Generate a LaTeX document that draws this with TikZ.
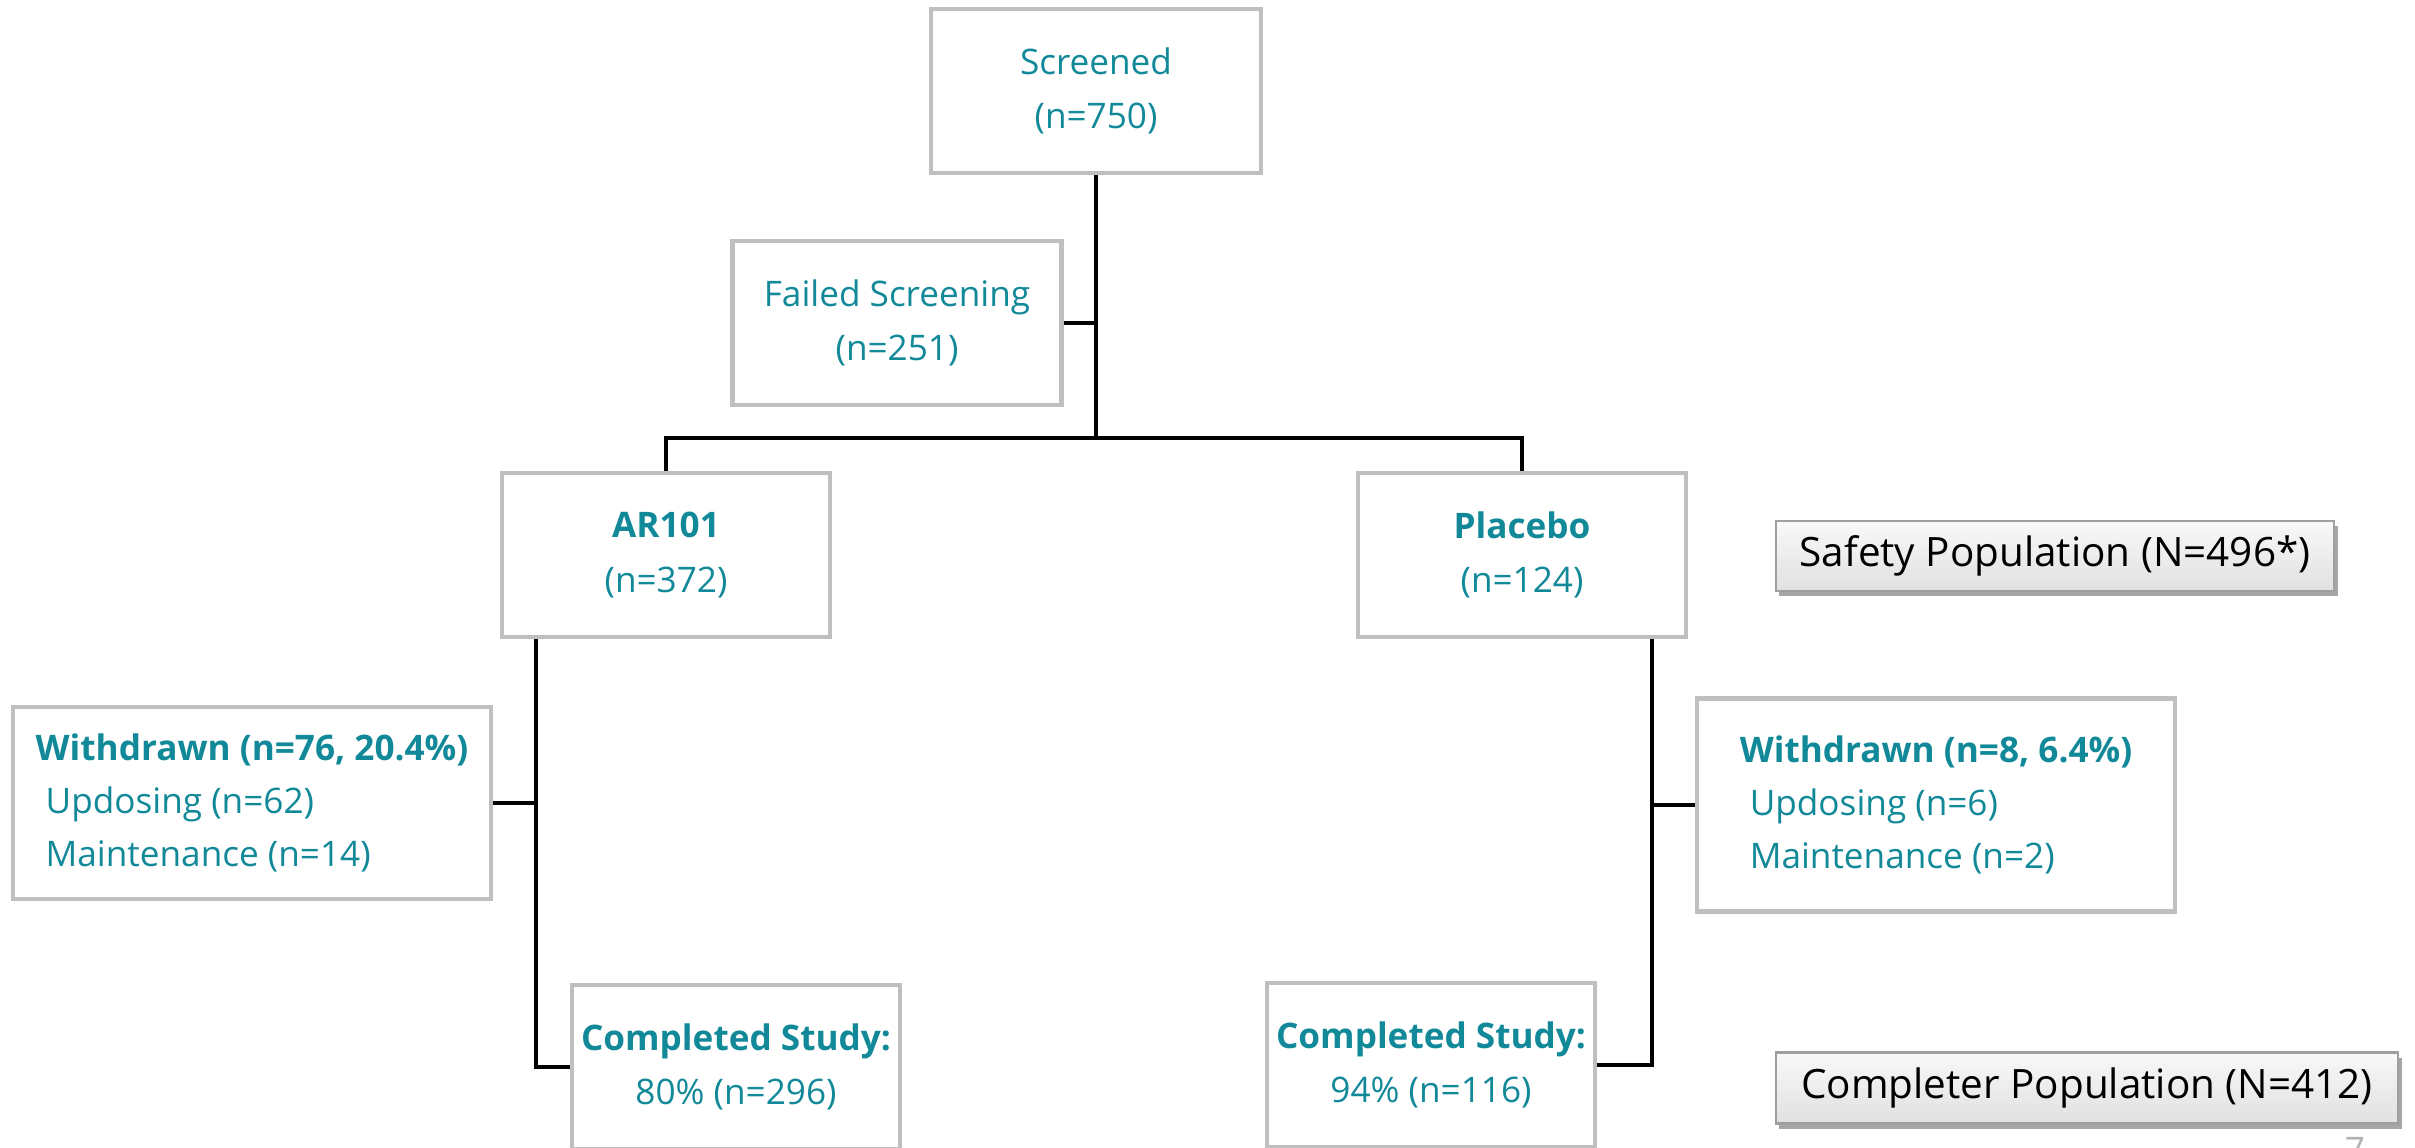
\documentclass[tikz,border=0pt]{standalone}
\usepackage{fontspec}
\setmainfont{Open Sans}
\usetikzlibrary{shadows}
\definecolor{tealtxt}{RGB}{18,137,153}
\definecolor{bord}{RGB}{191,191,191}
\begin{document}
\begin{tikzpicture}[x=0.01cm,y=-0.01cm,
  box/.style={draw=bord, line width=0.045cm, fill=white, text=tealtxt, align=center, inner sep=0pt,
    font=\fontsize{10}{15.4}\selectfont},
  wbox/.style={box, align=left, font=\fontsize{10}{15}\selectfont},
  pop/.style={draw=gray!75, line width=0.025cm, top color=gray!5, bottom color=gray!24, inner sep=0pt,
    text=black, font=\fontsize{11.5}{14}\selectfont,
    drop shadow={shadow xshift=0.035cm, shadow yshift=-0.05cm, opacity=0.35, fill=black}},
  conn/.style={draw=black, line width=0.045cm}
]
\useasboundingbox (0,0) rectangle (2415,1147);

\node[box, minimum width=3.30cm, minimum height=1.64cm] (scr) at (1096,91) {Screened\\(n=750)};
\node[box, minimum width=3.29cm, minimum height=1.64cm] (fail) at (897,323) {Failed Screening\\(n=251)};
\node[box, minimum width=3.28cm, minimum height=1.64cm] (ar) at (666,555) {\textbf{AR101}\\(n=372)};
\node[box, minimum width=3.28cm, minimum height=1.64cm] (pl) at (1522,555) {\textbf{Placebo}\\(n=124)};
\node[wbox, minimum width=4.78cm, minimum height=1.92cm] (wl) at (252,803)
  {\textbf{Withdrawn (n=76, 20.4\%)}\\\hspace{0.1cm}Updosing (n=62)\\\hspace{0.1cm}Maintenance (n=14)};
\node[wbox, minimum width=4.78cm, minimum height=2.13cm] (wr) at (1936,805)
  {\textbf{Withdrawn (n=8, 6.4\%)}\\\hspace{0.1cm}Updosing (n=6)\\\hspace{0.1cm}Maintenance (n=2)};
\node[box, minimum width=3.28cm, minimum height=1.64cm] (cl) at (736,1067) {\textbf{Completed Study:}\\80\% (n=296)};
\node[box, minimum width=3.28cm, minimum height=1.64cm] (cr) at (1431,1065) {\textbf{Completed Study:}\\94\% (n=116)};

\node[pop, minimum width=5.58cm, minimum height=0.70cm] (safe) at (2055,556) {Safety Population (N=496*)};
\node[pop, minimum width=6.22cm, minimum height=0.71cm] (compl) at (2087,1088) {Completer Population (N=412)};

\node[anchor=north, inner sep=0pt, text=gray!60, font=\fontsize{10}{12}\selectfont] (pg) at (2355,1137) {7};

\coordinate (jt) at (1096,438);
\coordinate (lx) at (536,0);
\coordinate (rx) at (1652,0);

\draw[conn] (scr.south) -- (jt);
\draw[conn] (fail.east) -- (fail.east -| jt);
\draw[conn] (ar.north) |- (jt) -| (pl.north);
\draw[conn] (ar.south -| lx) |- (cl.west);
\draw[conn] (wl.east) -- (wl.east -| lx);
\draw[conn] (pl.south -| rx) |- (cr.east);
\draw[conn] (wr.west) -- (wr.west -| rx);
\end{tikzpicture}
\end{document}
